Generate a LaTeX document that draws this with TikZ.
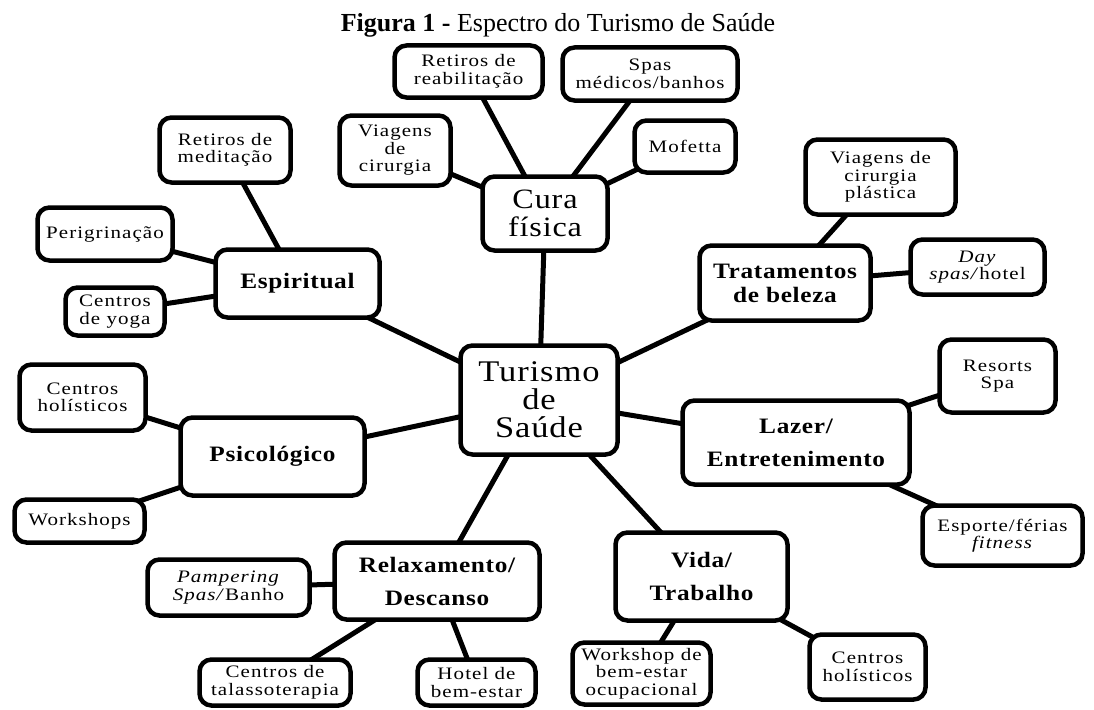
\documentclass[tikz,border=0pt]{standalone}
\usepackage{fontspec}
\setmainfont{Liberation Serif}
\newfontfamily\hubfont[FakeStretch=1.15,LetterSpace=3]{Liberation Serif}
\newfontfamily\leaffont[FakeStretch=1.2,LetterSpace=6]{Liberation Serif}
\usetikzlibrary{backgrounds}

\tikzset{
  box/.style={draw, line width=4.5pt, rounded corners=12pt, fill=white, align=center, inner sep=2pt},
  leaf/.style={box, font=\leaffont\fontsize{17.5}{17.5}\selectfont},
  hub/.style={box, font=\hubfont\bfseries\fontsize{22}{24}\selectfont},
  core/.style={box, font=\hubfont\fontsize{28}{28}\selectfont},
  link/.style={line width=5pt}
}

\begin{document}
\begin{tikzpicture}[x=1pt,y=-1pt]
\useasboundingbox (0,0) rectangle (1094,709);
\node[anchor=base] (title) at (558,32) {\fontsize{26}{26}\selectfont\textbf{Figura 1 -} Espectro do Turismo de Saúde};

\node[core, minimum width=157, minimum height=109, font=\hubfont\fontsize{30}{28}\selectfont] (turismo) at (539,400) {Turismo\\de\\Saúde};
\node[core, minimum width=125, minimum height=74] (cura) at (545,213.5) {Cura\\física};

\node[leaf, minimum width=148, minimum height=52] (reab) at (468.5,71.5) {Retiros de\\reabilitação};
\node[leaf, minimum width=175, minimum height=53] (spas) at (650,74) {Spas\\médicos/banhos};
\node[leaf, minimum width=111, minimum height=70] (viagcir) at (395,150.5) {Viagens\\de\\cirurgia};
\node[leaf, minimum width=101, minimum height=52] (mofetta) at (685,146.5) {Mofetta};

\node[hub, minimum width=164, minimum height=68] (espir) at (297.5,283.5) {Espiritual};
\node[leaf, minimum width=131, minimum height=65] (retmed) at (225,150) {Retiros de\\meditação};
\node[leaf, minimum width=135, minimum height=53] (perig) at (105,234) {Perigrinação};
\node[leaf, minimum width=99, minimum height=48] (yoga) at (115,311.5) {Centros\\de yoga};

\node[hub, minimum width=171, minimum height=75] (trat) at (785,283) {Tratamentos\\de beleza};
\node[leaf, minimum width=150, minimum height=75] (plast) at (880.5,177) {Viagens de\\cirurgia\\plástica};
\node[leaf, minimum width=134, minimum height=55] (dayspa) at (977.5,267) {\textit{Day}\\\textit{spas/}hotel};

\node[hub, minimum width=227, minimum height=84] (lazer) at (796,442.5) {Lazer/\\[9pt]Entretenimento};
\node[leaf, minimum width=116, minimum height=73] (resorts) at (997.5,376) {Resorts\\Spa};
\node[leaf, minimum width=160, minimum height=60] (esporte) at (1002.5,535.5) {Esporte/férias\\\textit{fitness}};

\node[hub, minimum width=184, minimum height=78] (psico) at (272.5,456.5) {Psicológico};
\node[leaf, minimum width=126, minimum height=66] (holA) at (82.5,397.5) {Centros\\holísticos};
\node[leaf, minimum width=130, minimum height=43] (wshops) at (79.5,521) {Workshops};

\node[hub, minimum width=205, minimum height=77] (relax) at (437,581) {Relaxamento/\\[9pt]Descanso};
\node[leaf, minimum width=162, minimum height=56] (pamper) at (228.5,587.5) {\textit{Pampering}\\\textit{Spas/}Banho};
\node[leaf, minimum width=151, minimum height=46] (talasso) at (275,682.5) {Centros de\\talassoterapia};
\node[leaf, minimum width=118, minimum height=46] (hotel) at (476.5,682.5) {Hotel de\\bem-estar};

\node[hub, minimum width=172, minimum height=88] (vida) at (701.5,576.5) {Vida/\\[9pt]Trabalho};
\node[leaf, minimum width=138, minimum height=62] (ocup) at (641.5,673.5) {Workshop de\\bem-estar\\ocupacional};
\node[leaf, minimum width=116, minimum height=65] (holB) at (867.5,667) {Centros\\holísticos};

\begin{scope}[on background layer]
\fill[white] (0,0) rectangle (1094,709);
\foreach \a/\b in {turismo/cura, cura/reab, cura/spas, cura/viagcir, cura/mofetta,
  turismo/espir, espir/retmed, espir/perig, espir/yoga,
  turismo/trat, trat/plast, trat/dayspa,
  turismo/lazer, lazer/resorts, lazer/esporte,
  turismo/psico, psico/holA, psico/wshops,
  turismo/relax, relax/pamper, relax/talasso, relax/hotel,
  turismo/vida, vida/ocup, vida/holB}
  \draw[link] (\a.center) -- (\b.center);
\end{scope}
\end{tikzpicture}
\end{document}
